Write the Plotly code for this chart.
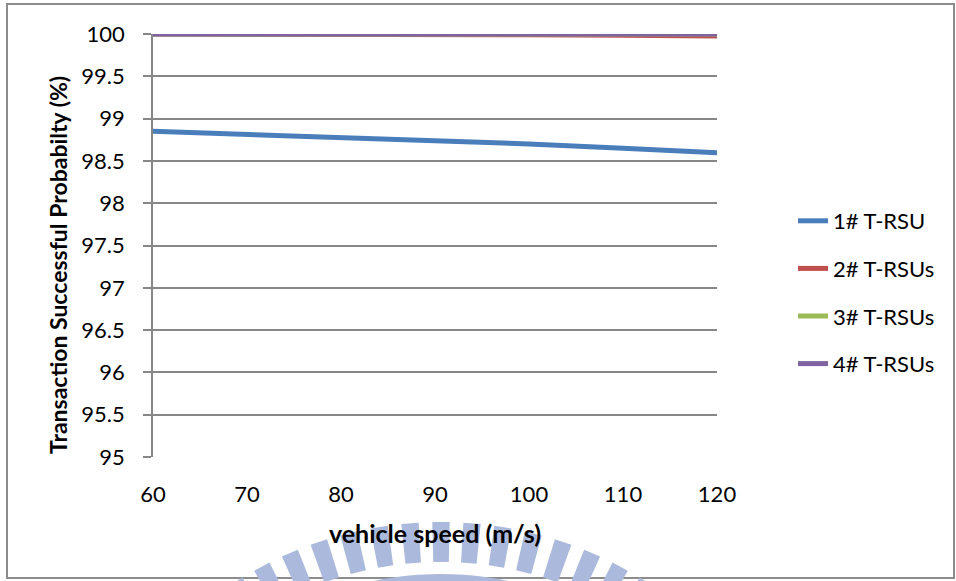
import math
import plotly.graph_objects as go

# vehicle speed (m/s)
speed = [60, 70, 80, 90, 100, 110, 120]

# transaction successful probability (%) per number of T-RSUs
rsu1 = [98.85, 98.815, 98.78, 98.74, 98.70, 98.65, 98.595]
rsu2 = [100.0, 100.0, 99.995, 99.99, 99.99, 99.985, 99.975]
rsu3 = [100.0, 100.0, 100.0, 100.0, 100.0, 100.0, 100.0]
rsu4 = [100.0, 100.0, 100.0, 100.0, 100.0, 100.0, 100.0]

series_names = ["1# T-RSU", "2# T-RSUs", "3# T-RSUs", "4# T-RSUs"]
series_colors = ["#4a7ebb", "#c0504d", "#9bbb59", "#8064a2"]
y_ticks = [95 + 0.5 * i for i in range(11)]
x_ticks = [60, 70, 80, 90, 100, 110, 120]

W, H = 956, 581
L, R, T, B = 153, 239, 34, 124
PW, PH = W - L - R, H - T - B
FONT = "Lato, 'Open Sans', sans-serif"
GRID = "#878787"


def px(x):
    return (x - L) / PW


def py(y):
    return (H - B - y) / PH


fig = go.Figure()
for name, color, vals in zip(series_names, series_colors, [rsu1, rsu2, rsu3, rsu4]):
    fig.add_trace(go.Scatter(
        x=speed, y=vals, name=name, mode="lines",
        line=dict(color=color, width=5),
        legendgroup=name,
    ))

shapes = []
# outer chart frame
shapes.append(dict(type="rect", xref="paper", yref="paper",
                   x0=px(7), x1=px(954), y0=py(578), y1=py(4),
                   line=dict(color="#8c8c8c", width=2), layer="below"))

# faint institutional watermark: radial stripes over an arc band
cx, cy = 441, 905
r_out, r_in, r_band_out, r_band_in = 383, 343, 331, 290
wm = "#abbadc"


def pt(r, a):
    return cx + r * math.sin(a), cy - r * math.cos(a)


step, half = math.radians(4.65), math.radians(1.3)
for k in range(-8, 9):
    a = k * step
    corners = [pt(r_out, a - half), pt(r_out, a + half), pt(r_in, a + half), pt(r_in, a - half)]
    path = "M " + " L ".join(f"{px(x):.5f},{py(y):.5f}" for x, y in corners) + " Z"
    shapes.append(dict(type="path", xref="paper", yref="paper", path=path,
                       fillcolor=wm, line=dict(width=0), layer="below"))

band = []
n = 40
amax = math.radians(40)
for i in range(n + 1):
    band.append(pt(r_band_out, -amax + 2 * amax * i / n))
for i in range(n + 1):
    band.append(pt(r_band_in, amax - 2 * amax * i / n))
path = "M " + " L ".join(f"{px(x):.5f},{py(y):.5f}" for x, y in band) + " Z"
shapes.append(dict(type="path", xref="paper", yref="paper", path=path,
                   fillcolor=wm, line=dict(width=0), layer="below"))

fig.update_layout(
    width=W, height=H,
    margin=dict(l=L, r=R, t=T, b=B, pad=0),
    paper_bgcolor="white", plot_bgcolor="white",
    font=dict(family=FONT, size=22, color="#000000"),
    showlegend=True,
    legend=dict(
        x=px(793), xanchor="left", y=py(200), yanchor="top",
        font=dict(family=FONT, size=22, color="#000000"),
        tracegroupgap=16, bgcolor="rgba(0,0,0,0)",
    ),
    xaxis=dict(
        range=[60, 120], tickvals=x_ticks, ticktext=[str(v) for v in x_ticks],
        showgrid=False, zeroline=False, showline=False,
        ticks="", ticklabelstandoff=22,
        tickfont=dict(family=FONT, size=22, color="#000000"),
        title=dict(text="<b>vehicle speed (m/s)</b>", standoff=19,
                   font=dict(family=FONT, size=25, color="#000000")),
    ),
    yaxis=dict(
        range=[95, 100], tickvals=y_ticks,
        ticktext=[f"{v:g}" for v in y_ticks],
        showgrid=True, gridcolor=GRID, gridwidth=1.6,
        zeroline=False, showline=True, linecolor=GRID, linewidth=1.6,
        ticks="outside", ticklen=8, tickcolor=GRID, tickwidth=1.6,
        ticklabelstandoff=14,
        tickfont=dict(family=FONT, size=22, color="#000000"),
    ),
    annotations=[dict(
        text="<b>Transaction Successful Probabilty (%)</b>",
        xref="paper", yref="paper", x=px(58), y=py(265),
        xanchor="center", yanchor="middle", textangle=-90, showarrow=False,
        font=dict(family=FONT, size=23, color="#000000"),
    )],
    shapes=shapes,
)

fig.write_html("out.html")
